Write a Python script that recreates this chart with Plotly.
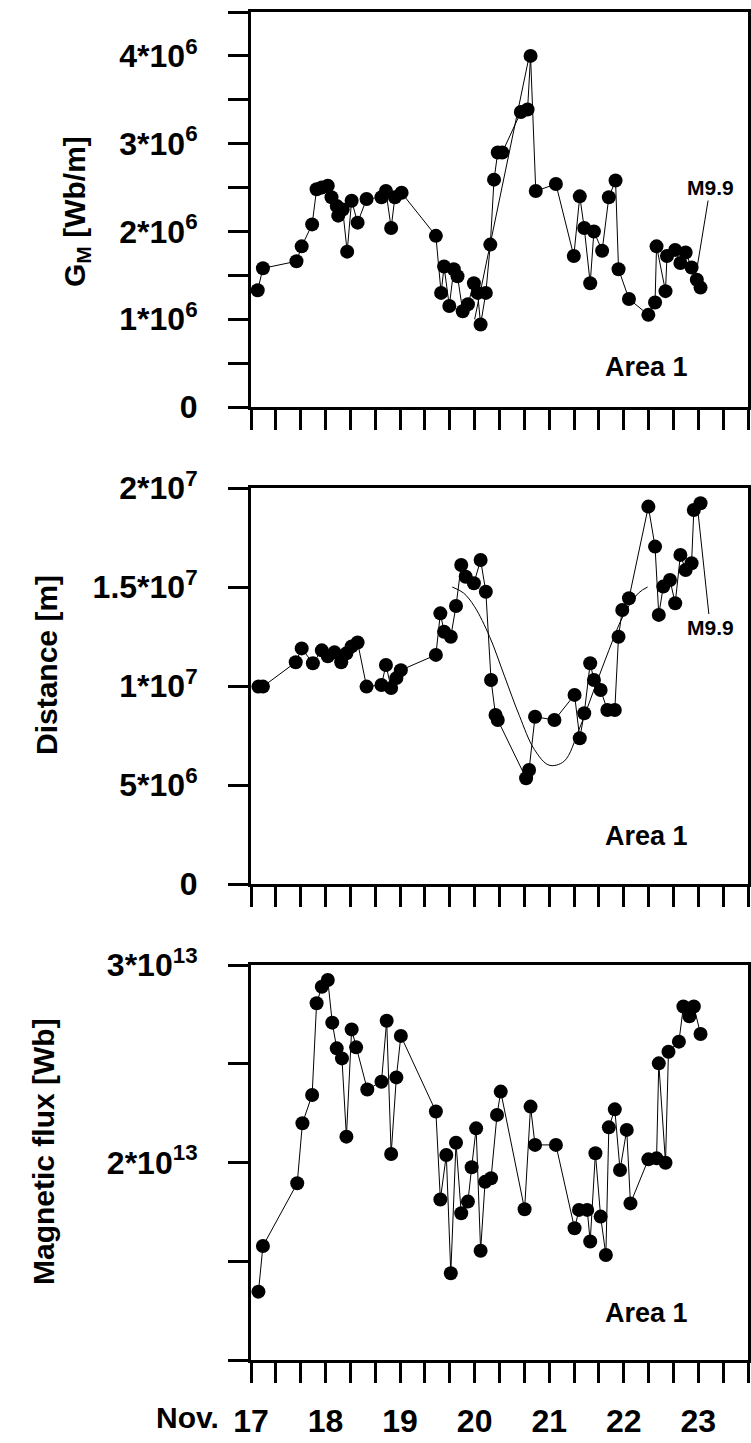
import plotly.graph_objects as go

# ---------------- data ----------------
# Panel 1: G_M [Wb/m], values in units of 1e6
gm_day = [17.09, 17.16, 17.61, 17.68, 17.82, 17.88, 17.95, 18.03, 18.08, 18.15,
          18.17, 18.23, 18.29, 18.35, 18.43, 18.55, 18.75, 18.81, 18.88, 18.93,
          19.02, 19.48, 19.55, 19.59, 19.66, 19.72, 19.77, 19.84, 19.91, 19.99,
          20.04, 20.08, 20.15, 20.21, 20.26, 20.31, 20.37, 20.62, 20.71, 20.75,
          20.82, 21.09, 21.33, 21.41, 21.47, 21.55, 21.60, 21.71, 21.80, 21.89,
          21.93, 22.07, 22.33, 22.42, 22.44, 22.56, 22.58, 22.69, 22.76, 22.83,
          22.91, 22.98, 23.03]
gm_val = [1.33, 1.58, 1.66, 1.83, 2.08, 2.48, 2.50, 2.52, 2.39, 2.29,
          2.18, 2.25, 1.77, 2.35, 2.10, 2.37, 2.39, 2.46, 2.04, 2.39,
          2.44, 1.95, 1.30, 1.60, 1.15, 1.57, 1.49, 1.09, 1.17, 1.41,
          1.30, 0.94, 1.30, 1.85, 2.59, 2.90, 2.90, 3.36, 3.39, 4.00,
          2.46, 2.54, 1.72, 2.40, 2.04, 1.41, 2.00, 1.78, 2.39, 2.58,
          1.57, 1.23, 1.05, 1.19, 1.83, 1.32, 1.72, 1.79, 1.64, 1.76,
          1.59, 1.45, 1.36]
gm_fit_day = [20.00, 20.72]
gm_fit_val = [1.00, 3.95]

# Panel 2: Distance [m], values in units of 1e7
dist_day = [17.10, 17.16, 17.60, 17.68, 17.83, 17.95, 18.03, 18.12, 18.21, 18.28,
            18.35, 18.43, 18.55, 18.75, 18.81, 18.88, 18.95, 19.01, 19.48, 19.54,
            19.59, 19.68, 19.75, 19.82, 19.88, 19.99, 20.08, 20.15, 20.22, 20.28,
            20.31, 20.69, 20.73, 20.81, 21.07, 21.34, 21.41, 21.47, 21.55, 21.60,
            21.69, 21.78, 21.88, 21.93, 21.98, 22.07, 22.33, 22.42, 22.47, 22.53,
            22.62, 22.69, 22.76, 22.83, 22.91, 22.94, 23.03]
dist_val = [0.997, 0.997, 1.12, 1.19, 1.115, 1.18, 1.15, 1.17, 1.12, 1.165,
            1.20, 1.22, 0.997, 1.005, 1.106, 0.99, 1.04, 1.08, 1.157, 1.367,
            1.274, 1.249, 1.404, 1.611, 1.552, 1.519, 1.636, 1.476, 1.03, 0.854,
            0.828, 0.534, 0.576, 0.845, 0.828, 0.955, 0.736, 0.862, 1.115, 1.03,
            0.98, 0.879, 0.879, 1.249, 1.384, 1.443, 1.906, 1.704, 1.359, 1.502,
            1.535, 1.418, 1.662, 1.586, 1.62, 1.889, 1.923]
dist_fit_day = [19.70, 19.85, 20.00, 20.20, 20.40, 20.60, 20.80, 21.00, 21.20,
                21.40, 21.60, 21.80, 22.00, 22.20, 22.32]
dist_fit_val = [1.50, 1.47, 1.40, 1.25, 1.05, 0.85, 0.68, 0.60, 0.62,
                0.78, 0.98, 1.18, 1.36, 1.47, 1.50]

# Panel 3: Magnetic flux [Wb], values in units of 1e13
flux_day = [17.10, 17.16, 17.62, 17.69, 17.82, 17.88, 17.95, 18.03, 18.09, 18.15,
            18.22, 18.28, 18.35, 18.41, 18.56, 18.75, 18.82, 18.88, 18.95, 19.01,
            19.48, 19.54, 19.62, 19.68, 19.75, 19.82, 19.91, 19.96, 20.02, 20.08,
            20.14, 20.22, 20.30, 20.35, 20.67, 20.75, 20.81, 21.09, 21.34, 21.40,
            21.51, 21.55, 21.62, 21.69, 21.76, 21.80, 21.88, 21.95, 22.04, 22.09,
            22.33, 22.44, 22.47, 22.56, 22.60, 22.74, 22.80, 22.88, 22.94, 23.03]
flux_val = [1.346, 1.577, 1.895, 2.199, 2.342, 2.806, 2.890, 2.924, 2.708, 2.578,
            2.527, 2.131, 2.674, 2.583, 2.370, 2.409, 2.718, 2.043, 2.431, 2.641,
            2.258, 1.813, 2.038, 1.439, 2.100, 1.743, 1.802, 1.976, 2.173, 1.553,
            1.902, 1.920, 2.241, 2.359, 1.763, 2.283, 2.089, 2.089, 1.667, 1.760,
            1.760, 1.600, 2.047, 1.726, 1.532, 2.178, 2.269, 1.962, 2.165, 1.793,
            2.016, 2.021, 2.502, 1.999, 2.561, 2.612, 2.790, 2.740, 2.790, 2.651]

# tick definitions
x_tickvals = [17 + i / 3 for i in range(21)]
x_ticktext = ["17", "", "", "18", "", "", "19", "", "", "20", "", "", "21", "", "",
              "22", "", "", "23", "", ""]
gm_tickvals = [0, 0.5e6, 1e6, 1.5e6, 2e6, 2.5e6, 3e6, 3.5e6, 4e6, 4.5e6]
gm_ticktext = ["0", "", "1*10<sup>6</sup>", "", "2*10<sup>6</sup>", "",
               "3*10<sup>6</sup>", "", "4*10<sup>6</sup>", ""]
dist_tickvals = [0, 5e6, 1e7, 1.5e7, 2e7]
dist_ticktext = ["0", "5*10<sup>6</sup>", "1*10<sup>7</sup>", "1.5*10<sup>7</sup>",
                 "2*10<sup>7</sup>"]
flux_tickvals = [1e13, 1.5e13, 2e13, 2.5e13, 3e13]
flux_ticktext = ["", "", "2*10<sup>13</sup>", "", "3*10<sup>13</sup>"]

# ---------------- figure ----------------
W, H = 751, 1443
FONT = "Liberation Sans, Arial, sans-serif"

fig = go.Figure()

marker = dict(color="black", size=14, symbol="circle", line=dict(width=0))
line = dict(color="black", width=1)

fig.add_trace(go.Scatter(x=gm_fit_day, y=[v * 1e6 for v in gm_fit_val], mode="lines",
                         line=line, xaxis="x", yaxis="y", showlegend=False))
fig.add_trace(go.Scatter(x=gm_day, y=[v * 1e6 for v in gm_val], mode="lines+markers",
                         marker=marker, line=line, xaxis="x", yaxis="y", showlegend=False))

fig.add_trace(go.Scatter(x=dist_fit_day, y=[v * 1e7 for v in dist_fit_val], mode="lines",
                         line=dict(color="black", width=1, shape="spline"),
                         xaxis="x2", yaxis="y2", showlegend=False))
fig.add_trace(go.Scatter(x=dist_day, y=[v * 1e7 for v in dist_val], mode="lines+markers",
                         marker=marker, line=line, xaxis="x2", yaxis="y2", showlegend=False))

fig.add_trace(go.Scatter(x=flux_day, y=[v * 1e13 for v in flux_val], mode="lines+markers",
                         marker=marker, line=line, xaxis="x3", yaxis="y3", showlegend=False))

x_dom = [251 / W, 748 / W]
def ydom(top, bottom):
    return [1 - bottom / H, 1 - top / H]

tickfont = dict(family=FONT, size=32, color="black", weight="bold")
common = dict(showline=True, linewidth=3, linecolor="black", mirror=True,
              ticks="outside", ticklen=20, tickwidth=3, tickcolor="black",
              showgrid=False, zeroline=False, tickfont=tickfont, fixedrange=True,
              automargin=False)

xr = [17, 23 + 2 / 3]
fig.update_layout(
    width=W, height=H,
    margin=dict(l=0, r=0, t=0, b=0, autoexpand=False),
    paper_bgcolor="white", plot_bgcolor="white",
    xaxis=dict(domain=x_dom, range=xr, anchor="y", tickvals=x_tickvals,
               ticktext=[""] * len(x_tickvals), **common),
    yaxis=dict(domain=ydom(12, 407), range=[0, 4.5e6], anchor="x",
               tickvals=gm_tickvals, ticktext=gm_ticktext, ticklabelstandoff=24, **common),
    xaxis2=dict(domain=x_dom, range=xr, anchor="y2", tickvals=x_tickvals,
                ticktext=[""] * len(x_tickvals), **common),
    yaxis2=dict(domain=ydom(488, 884), range=[0, 2e7], anchor="x2",
                tickvals=dist_tickvals, ticktext=dist_ticktext, ticklabelstandoff=24, **common),
    xaxis3=dict(domain=x_dom, range=xr, anchor="y3", tickvals=x_tickvals,
                ticktext=x_ticktext, ticklabelstandoff=11, **common),
    yaxis3=dict(domain=ydom(965, 1360), range=[1e13, 3e13], anchor="x3",
                tickvals=flux_tickvals, ticktext=flux_ticktext, ticklabelstandoff=24, **common),
)

def ann_font(size):
    return dict(family=FONT, size=size, color="black", weight="bold")

annotations = [
    dict(text="G<sub>M</sub> [Wb/m]", x=77 / W, y=1 - 212 / H, textangle=-90, font=ann_font(30)),
    dict(text="Distance [m]", x=46 / W, y=1 - 665 / H, textangle=-90, font=ann_font(30)),
    dict(text="Magnetic flux [Wb]", x=43 / W, y=1 - 1152 / H, textangle=-90, font=ann_font(30)),
    dict(text="Area 1", x=646 / W, y=1 - 367 / H, font=ann_font(27)),
    dict(text="Area 1", x=646 / W, y=1 - 836 / H, font=ann_font(27)),
    dict(text="Area 1", x=646 / W, y=1 - 1313 / H, font=ann_font(27)),
    dict(text="Nov.", x=187 / W, y=1 - 1417 / H, font=ann_font(30)),
]
for a in annotations:
    a.update(xref="paper", yref="paper", showarrow=False, xanchor="center", yanchor="middle")

annotations += [
    dict(text="M9.9", xref="x", yref="y", x=22.98, y=1.57e6, axref="x", ayref="y",
         ax=23.16, ay=2.50e6, showarrow=True, arrowhead=0, arrowwidth=1, arrowcolor="black",
         font=ann_font(21)),
    dict(text="M9.9", xref="x2", yref="y2", x=22.99, y=1.90e7, axref="x2", ayref="y2",
         ax=23.16, ay=1.298e7, showarrow=True, arrowhead=0, arrowwidth=1, arrowcolor="black",
         font=ann_font(21)),
]
fig.update_layout(annotations=annotations)

fig.write_html("out.html")
